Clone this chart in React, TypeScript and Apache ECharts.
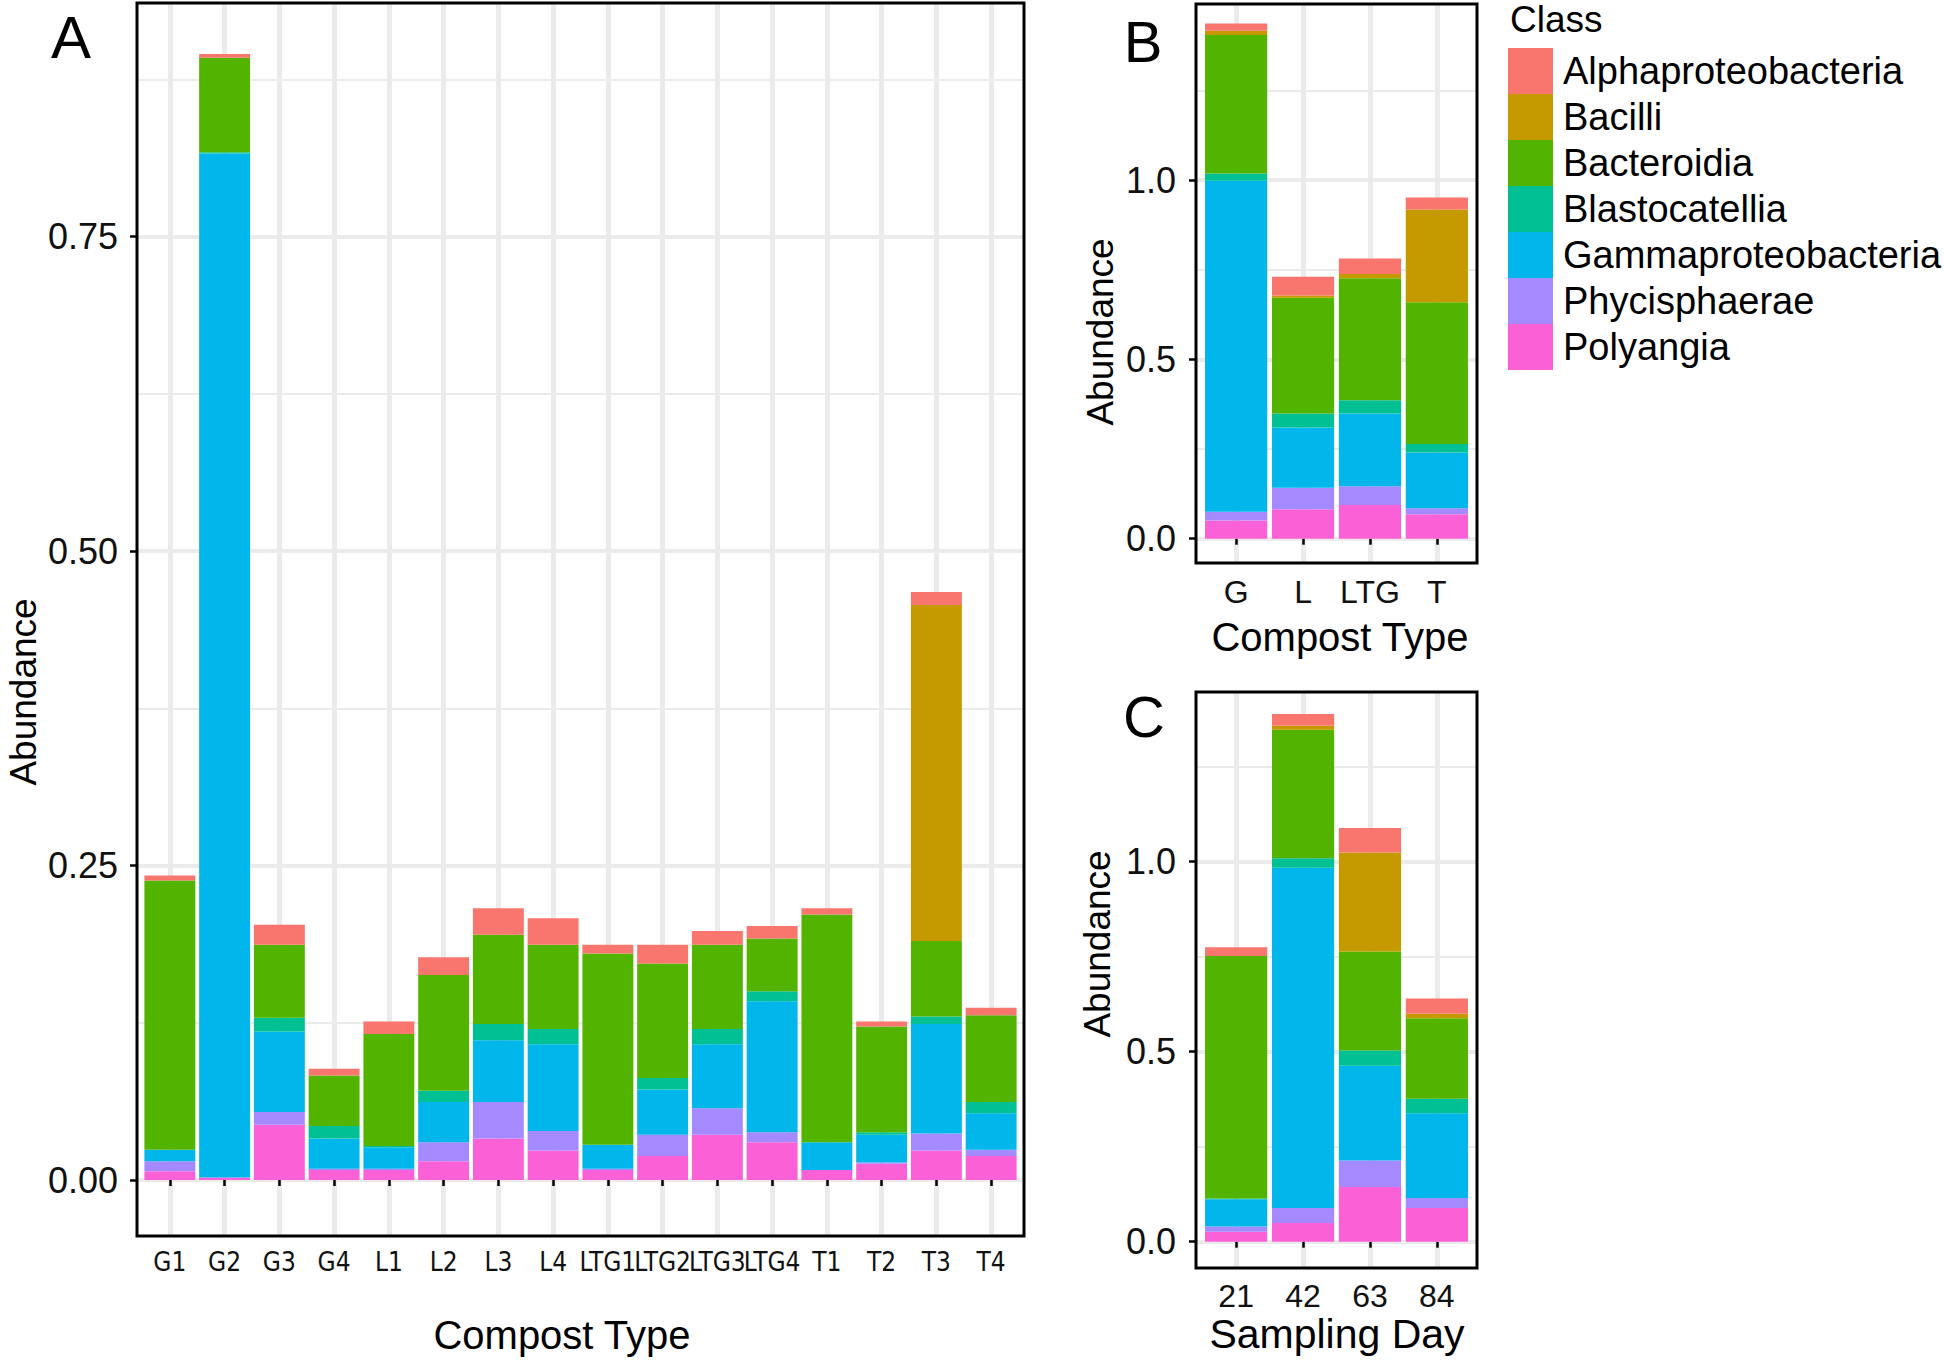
import React, { useEffect, useRef } from "react";
import * as echarts from "echarts";

// ---------- DATA ----------
const classes = [
  "Alphaproteobacteria",
  "Bacilli",
  "Bacteroidia",
  "Blastocatellia",
  "Gammaproteobacteria",
  "Phycisphaerae",
  "Polyangia",
];
const classColors = ["#F8766D", "#C49A00", "#53B400", "#00C094", "#00B6EB", "#A58AFF", "#FB61D7"];

// Panel A: per sample
const samplesA = ["G1", "G2", "G3", "G4", "L1", "L2", "L3", "L4", "LTG1", "LTG2", "LTG3", "LTG4", "T1", "T2", "T3", "T4"];
const alphaA = [0.004, 0.003, 0.016, 0.0055, 0.01, 0.014, 0.021, 0.021, 0.007, 0.015, 0.011, 0.01, 0.005, 0.004, 0.0105, 0.006];
const bacilliA = [0, 0, 0, 0, 0, 0, 0, 0, 0, 0, 0, 0, 0, 0, 0.267, 0];
const bacteroidiaA = [0.214, 0.075, 0.058, 0.04, 0.089, 0.092, 0.071, 0.067, 0.152, 0.091, 0.067, 0.042, 0.181, 0.084, 0.06, 0.069];
const blastoA = [0, 0.001, 0.011, 0.01, 0.001, 0.009, 0.013, 0.012, 0, 0.009, 0.012, 0.008, 0, 0.002, 0.006, 0.009];
const gammaA = [0.009, 0.814, 0.064, 0.024, 0.017, 0.032, 0.049, 0.069, 0.019, 0.036, 0.051, 0.104, 0.022, 0.022, 0.087, 0.029];
const phycisA = [0.008, 0, 0.01, 0.001, 0.001, 0.015, 0.029, 0.0155, 0.001, 0.017, 0.021, 0.008, 0, 0.001, 0.0135, 0.005];
const polyA = [0.007, 0.002, 0.044, 0.008, 0.008, 0.015, 0.033, 0.0235, 0.008, 0.019, 0.036, 0.03, 0.008, 0.013, 0.0235, 0.019];

// Panel B: per compost type
const typesB = ["G", "L", "LTG", "T"];
const alphaB = [0.02, 0.052, 0.043, 0.033];
const bacilliB = [0.012, 0.006, 0.012, 0.259];
const bacteroidiaB = [0.386, 0.323, 0.34, 0.395];
const blastoB = [0.02, 0.039, 0.037, 0.024];
const gammaB = [0.923, 0.168, 0.203, 0.155];
const phycisB = [0.024, 0.06, 0.052, 0.017];
const polyB = [0.051, 0.082, 0.094, 0.068];

// Panel C: per sampling day
const daysC = ["21", "42", "63", "84"];
const alphaC = [0.023, 0.031, 0.065, 0.04];
const bacilliC = [0, 0.011, 0.26, 0.012];
const bacteroidiaC = [0.638, 0.338, 0.261, 0.212];
const blastoC = [0.002, 0.025, 0.04, 0.038];
const gammaC = [0.072, 0.895, 0.249, 0.223];
const phycisC = [0.014, 0.04, 0.07, 0.026];
const polyC = [0.026, 0.049, 0.144, 0.089];

const ticksA = [0, 0.25, 0.5, 0.75];
const ticksBC = [0, 0.5, 1.0];

// ---------- LAYOUT ----------
const FONT = "'Liberation Sans', Arial, Helvetica, sans-serif";
const NARROW = "'Liberation Sans Narrow', 'Arial Narrow', 'DejaVu Sans Condensed', 'Liberation Sans', sans-serif";
const GRID_COLOR = "#EBEBEB";

type PanelCfg = {
  cats: string[];
  values: number[][];
  box: { x: number; y: number; w: number; h: number };
  zeroY: number;
  ppu: number;
  ticks: number[];
  digits: number;
  xFontSize: number;
  xFontFamily: string;
  xMargin: number;
  yMargin: number;
};

const panels: PanelCfg[] = [
  {
    cats: samplesA,
    values: [alphaA, bacilliA, bacteroidiaA, blastoA, gammaA, phycisA, polyA],
    box: { x: 137, y: 3, w: 887, h: 1233 },
    zeroY: 1180,
    ppu: 1258,
    ticks: ticksA,
    digits: 2,
    xFontSize: 26,
    xFontFamily: NARROW,
    xMargin: 13,
    yMargin: 19,
  },
  {
    cats: typesB,
    values: [alphaB, bacilliB, bacteroidiaB, blastoB, gammaB, phycisB, polyB],
    box: { x: 1196, y: 4, w: 281, h: 559 },
    zeroY: 538.7,
    ppu: 358.7,
    ticks: ticksBC,
    digits: 1,
    xFontSize: 32,
    xFontFamily: FONT,
    xMargin: 13,
    yMargin: 20,
  },
  {
    cats: daysC,
    values: [alphaC, bacilliC, bacteroidiaC, blastoC, gammaC, phycisC, polyC],
    box: { x: 1196, y: 692, w: 281, h: 576 },
    zeroY: 1241.7,
    ppu: 380,
    ticks: ticksBC,
    digits: 1,
    xFontSize: 32,
    xFontFamily: FONT,
    xMargin: 12,
    yMargin: 20,
  },
];

function buildOption() {
  const grids: any[] = [];
  const xAxes: any[] = [];
  const yAxes: any[] = [];
  const series: any[] = [];
  const graphics: any[] = [];

  panels.forEach((p, pi) => {
    const n = p.cats.length;
    const band = p.box.w / (n + 0.2);
    const barsLeft = p.box.x + 0.1 * band;
    const bottom = p.box.y + p.box.h;
    const majorInt = p.ticks[1] - p.ticks[0];
    const majorMax = p.ticks[p.ticks.length - 1];
    const minorMin = majorInt / 2;
    const minorMax = majorMax + majorInt / 2;

    // major horizontal gridlines + y labels
    let g = grids.length;
    grids.push({ left: p.box.x, top: p.zeroY - majorMax * p.ppu, width: p.box.w, height: majorMax * p.ppu });
    xAxes.push({ type: "value", gridIndex: g, show: false });
    yAxes.push({
      type: "value",
      gridIndex: g,
      min: p.ticks[0],
      max: majorMax,
      interval: majorInt,
      axisLine: { show: false },
      axisTick: { show: true, length: 7, lineStyle: { color: "#000", width: 2.5 } },
      axisLabel: {
        show: true,
        margin: p.yMargin,
        fontSize: 36,
        fontFamily: FONT,
        color: "#111",
        formatter: (v: number) => v.toFixed(p.digits),
      },
      splitLine: { show: true, lineStyle: { color: GRID_COLOR, width: 4 } },
    });

    // minor horizontal gridlines
    g = grids.length;
    grids.push({ left: p.box.x, top: p.zeroY - minorMax * p.ppu, width: p.box.w, height: (minorMax - minorMin) * p.ppu });
    xAxes.push({ type: "value", gridIndex: g, show: false });
    yAxes.push({
      type: "value",
      gridIndex: g,
      min: minorMin,
      max: minorMax,
      interval: majorInt,
      axisLine: { show: false },
      axisTick: { show: false },
      axisLabel: { show: false },
      splitLine: { show: true, lineStyle: { color: GRID_COLOR, width: 2 } },
    });

    // vertical gridlines at category centres
    g = grids.length;
    grids.push({ left: barsLeft + band / 2, top: p.box.y, width: (n - 1) * band, height: p.box.h });
    xAxes.push({
      type: "value",
      gridIndex: g,
      min: 0,
      max: n - 1,
      interval: 1,
      axisLine: { show: false },
      axisTick: { show: false },
      axisLabel: { show: false },
      splitLine: { show: true, lineStyle: { color: GRID_COLOR, width: 5 } },
    });
    yAxes.push({ type: "value", gridIndex: g, show: false });

    // bars
    g = grids.length;
    grids.push({ left: barsLeft, top: p.box.y, width: n * band, height: p.zeroY - p.box.y });
    const xi = xAxes.length;
    xAxes.push({
      type: "category",
      gridIndex: g,
      data: p.cats,
      offset: bottom - p.zeroY,
      axisLine: { show: false },
      axisTick: { show: true, alignWithLabel: true, length: 6, lineStyle: { color: "#000", width: 2.5 } },
      axisLabel: {
        interval: 0,
        margin: p.xMargin,
        fontSize: p.xFontSize,
        fontFamily: p.xFontFamily,
        color: "#111",
      },
      splitLine: { show: false },
    });
    const yi = yAxes.length;
    yAxes.push({ type: "value", gridIndex: g, min: 0, max: (p.zeroY - p.box.y) / p.ppu, show: false });

    for (let ci = classes.length - 1; ci >= 0; ci--) {
      series.push({
        type: "bar",
        name: classes[ci],
        xAxisIndex: xi,
        yAxisIndex: yi,
        stack: "panel" + pi,
        barCategoryGap: "7%",
        clip: false,
        itemStyle: { color: classColors[ci] },
        data: p.values[ci],
      });
    }

    // panel border
    graphics.push({
      type: "rect",
      z: 100,
      shape: { x: p.box.x, y: p.box.y, width: p.box.w, height: p.box.h },
      style: { fill: "none", stroke: "#000", lineWidth: 3 },
    });
  });

  const txt = (text: string, x: number, y: number, size: number, opts: any = {}) => ({
    type: "text",
    z: 100,
    x,
    y,
    rotation: opts.rotation || 0,
    style: {
      text,
      fontSize: size,
      fontFamily: FONT,
      fill: "#000",
      align: opts.align || "center",
      verticalAlign: "middle",
    },
  });

  // panel letters
  graphics.push(txt("A", 71, 37, 60));
  graphics.push(txt("B", 1143, 41, 58));
  graphics.push(txt("C", 1144, 716, 58));

  // axis titles
  graphics.push(txt("Compost Type", 562, 1335, 40));
  graphics.push(txt("Compost Type", 1340, 637, 40));
  graphics.push(txt("Sampling Day", 1337, 1334, 41));
  graphics.push(txt("Abundance", 23, 692, 37, { rotation: Math.PI / 2 }));
  graphics.push(txt("Abundance", 1100, 332, 37, { rotation: Math.PI / 2 }));
  graphics.push(txt("Abundance", 1097, 944, 37, { rotation: Math.PI / 2 }));

  // legend
  graphics.push(txt("Class", 1510, 19, 37, { align: "left" }));
  classes.forEach((c, i) => {
    const top = 48 + i * 46;
    graphics.push({
      type: "rect",
      z: 100,
      shape: { x: 1508, y: top, width: 45, height: 46 },
      style: { fill: classColors[i], stroke: "none" },
    });
    graphics.push(txt(c, 1563, top + 23, 38, { align: "left" }));
  });

  return {
    animation: false,
    backgroundColor: "#ffffff",
    grid: grids,
    xAxis: xAxes,
    yAxis: yAxes,
    series,
    graphic: { elements: graphics },
  };
}

export default function App() {
  const ref = useRef<HTMLDivElement>(null);
  useEffect(() => {
    if (!ref.current) return;
    const chart = echarts.init(ref.current, undefined, { renderer: "svg" });
    chart.setOption(buildOption() as any);
    return () => chart.dispose();
  }, []);
  return (
    <div
      ref={ref}
      style={{ position: "absolute", left: 0, top: 0, width: 1944, height: 1361, background: "#fff" }}
    />
  );
}
